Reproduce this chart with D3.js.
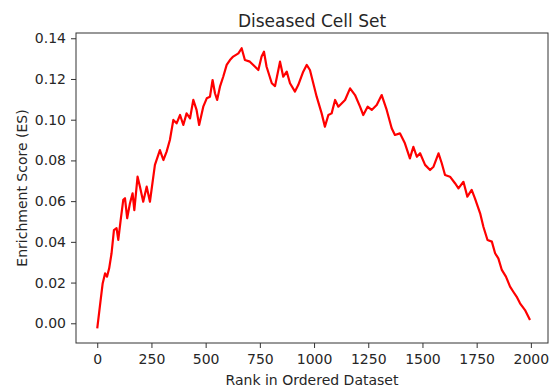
<!DOCTYPE html>
<html>
<head>
<meta charset="utf-8">
<script src="https://cdn.jsdelivr.net/npm/d3@7"></script>
<style>
  body { margin: 0; background: #fff; }
  text { font-family: "DejaVu Sans", sans-serif; fill: #262626; }
</style>
</head>
<body>
<script>
const w = 550;
const h = 387;

// Data

const title = "Diseased Cell Set";
const xLabel = "Rank in Ordered Dataset";
const yLabel = "Enrichment Score (ES)";

const ranks = [
  0, 12, 25, 36, 45, 55, 66, 77, 89, 97,
  108, 120, 128, 138, 151, 163, 171, 186, 197, 212,
  228, 243, 266, 289, 305, 320, 335, 351, 366, 382,
  397, 412, 428, 443, 458, 470, 489, 505, 520, 532,
  543, 553, 566, 581, 597, 612, 627, 651, 666, 681,
  704, 728, 743, 758, 769, 781, 805, 820, 843, 858,
  874, 889, 912, 927, 950, 966, 981, 1012, 1035, 1050,
  1066, 1081, 1097, 1112, 1127, 1143, 1166, 1189, 1212, 1227,
  1247, 1266, 1289, 1312, 1335, 1358, 1373, 1396, 1419, 1442,
  1458, 1474, 1489, 1512, 1535, 1551, 1574, 1589, 1604, 1627,
  1650, 1666, 1689, 1707, 1727, 1742, 1766, 1781, 1800, 1820,
  1835, 1850, 1866, 1885, 1904, 1919, 1934, 1950, 1973, 1996
];

const scores = [
  -0.0025, 0.0082, 0.0196, 0.0245, 0.0229, 0.0270, 0.0344, 0.0458, 0.0467, 0.0410,
  0.0507, 0.0606, 0.0614, 0.0516, 0.0590, 0.0638, 0.0556, 0.0720, 0.0671, 0.0597,
  0.0671, 0.0597, 0.0778, 0.0851, 0.0802, 0.0843, 0.0900, 0.0999, 0.0982, 0.1023,
  0.0974, 0.1031, 0.1007, 0.1097, 0.1048, 0.0974, 0.1064, 0.1105, 0.1113, 0.1195,
  0.1130, 0.1097, 0.1162, 0.1211, 0.1269, 0.1293, 0.1310, 0.1326, 0.1351, 0.1293,
  0.1285, 0.1260, 0.1244, 0.1310, 0.1334, 0.1260, 0.1179, 0.1165, 0.1285, 0.1211,
  0.1236, 0.1179, 0.1138, 0.1170, 0.1236, 0.1269, 0.1244, 0.1113, 0.1031, 0.0966,
  0.1023, 0.1031, 0.1097, 0.1064, 0.1080, 0.1097, 0.1154, 0.1121, 0.1064, 0.1023,
  0.1064, 0.1048, 0.1072, 0.1121, 0.1048, 0.0958, 0.0925, 0.0933, 0.0884, 0.0810,
  0.0867, 0.0818, 0.0835, 0.0778, 0.0753, 0.0769, 0.0835, 0.0786, 0.0728, 0.0720,
  0.0688, 0.0663, 0.0695, 0.0622, 0.0655, 0.0614, 0.0540, 0.0474, 0.0409, 0.0401,
  0.0344, 0.0319, 0.0262, 0.0229, 0.0180, 0.0155, 0.0131, 0.0098, 0.0065, 0.0016
];

const xTicks = [0, 250, 500, 750, 1000, 1250, 1500, 1750, 2000];
const yTicks = [0.00, 0.02, 0.04, 0.06, 0.08, 0.10, 0.12, 0.14];

const points = ranks.map((r, i) => ({ rank: r, es: scores[i] }));

// Layout

const margin = { top: 33, right: 2, bottom: 44, left: 76 };
const iw = w - margin.left - margin.right;
const ih = h - margin.top - margin.bottom;

const svg = d3.select("body").append("svg").attr("width", w).attr("height", h);

const x = d3.scaleLinear().domain([-98, 2079]).range([margin.left, margin.left + iw]);
const y = d3.scaleLinear().domain([-0.00968, 0.14258]).range([margin.top + ih, margin.top]);

// Axes

const xAxis = svg
  .append("g")
  .attr("transform", `translate(0,${margin.top + ih})`)
  .call(d3.axisBottom(x).tickValues(xTicks).tickFormat(d3.format("d")).tickSize(5).tickPadding(6));

const yAxis = svg
  .append("g")
  .attr("transform", `translate(${margin.left},0)`)
  .call(d3.axisLeft(y).tickValues(yTicks).tickFormat(d3.format(".2f")).tickSize(5).tickPadding(5));

[xAxis, yAxis].forEach((g) => {
  g.select(".domain").remove();
  g.selectAll(".tick line").attr("stroke", "#333").attr("stroke-width", 1);
  g.selectAll(".tick text").attr("font-size", 14).attr("font-family", "DejaVu Sans").attr("fill", "#262626");
});

// Frame

svg
  .append("rect")
  .attr("x", margin.left)
  .attr("y", margin.top)
  .attr("width", iw)
  .attr("height", ih)
  .attr("fill", "none")
  .attr("stroke", "#333")
  .attr("stroke-width", 1);

// Line

const line = d3
  .line()
  .x((d) => x(d.rank))
  .y((d) => y(d.es));

svg
  .append("path")
  .datum(points)
  .attr("d", line)
  .attr("fill", "none")
  .attr("stroke", "red")
  .attr("stroke-width", 2.2)
  .attr("stroke-linejoin", "round");

// Labels

svg
  .append("text")
  .attr("x", margin.left + iw / 2)
  .attr("y", 26.5)
  .attr("text-anchor", "middle")
  .attr("font-size", 17)
  .text(title);

svg
  .append("text")
  .attr("x", margin.left + iw / 2)
  .attr("y", 385)
  .attr("text-anchor", "middle")
  .attr("font-size", 14)
  .text(xLabel);

svg
  .append("text")
  .attr("transform", `translate(27,${margin.top + ih / 2}) rotate(-90)`)
  .attr("text-anchor", "middle")
  .attr("font-size", 14)
  .text(yLabel);
</script>
</body>
</html>
